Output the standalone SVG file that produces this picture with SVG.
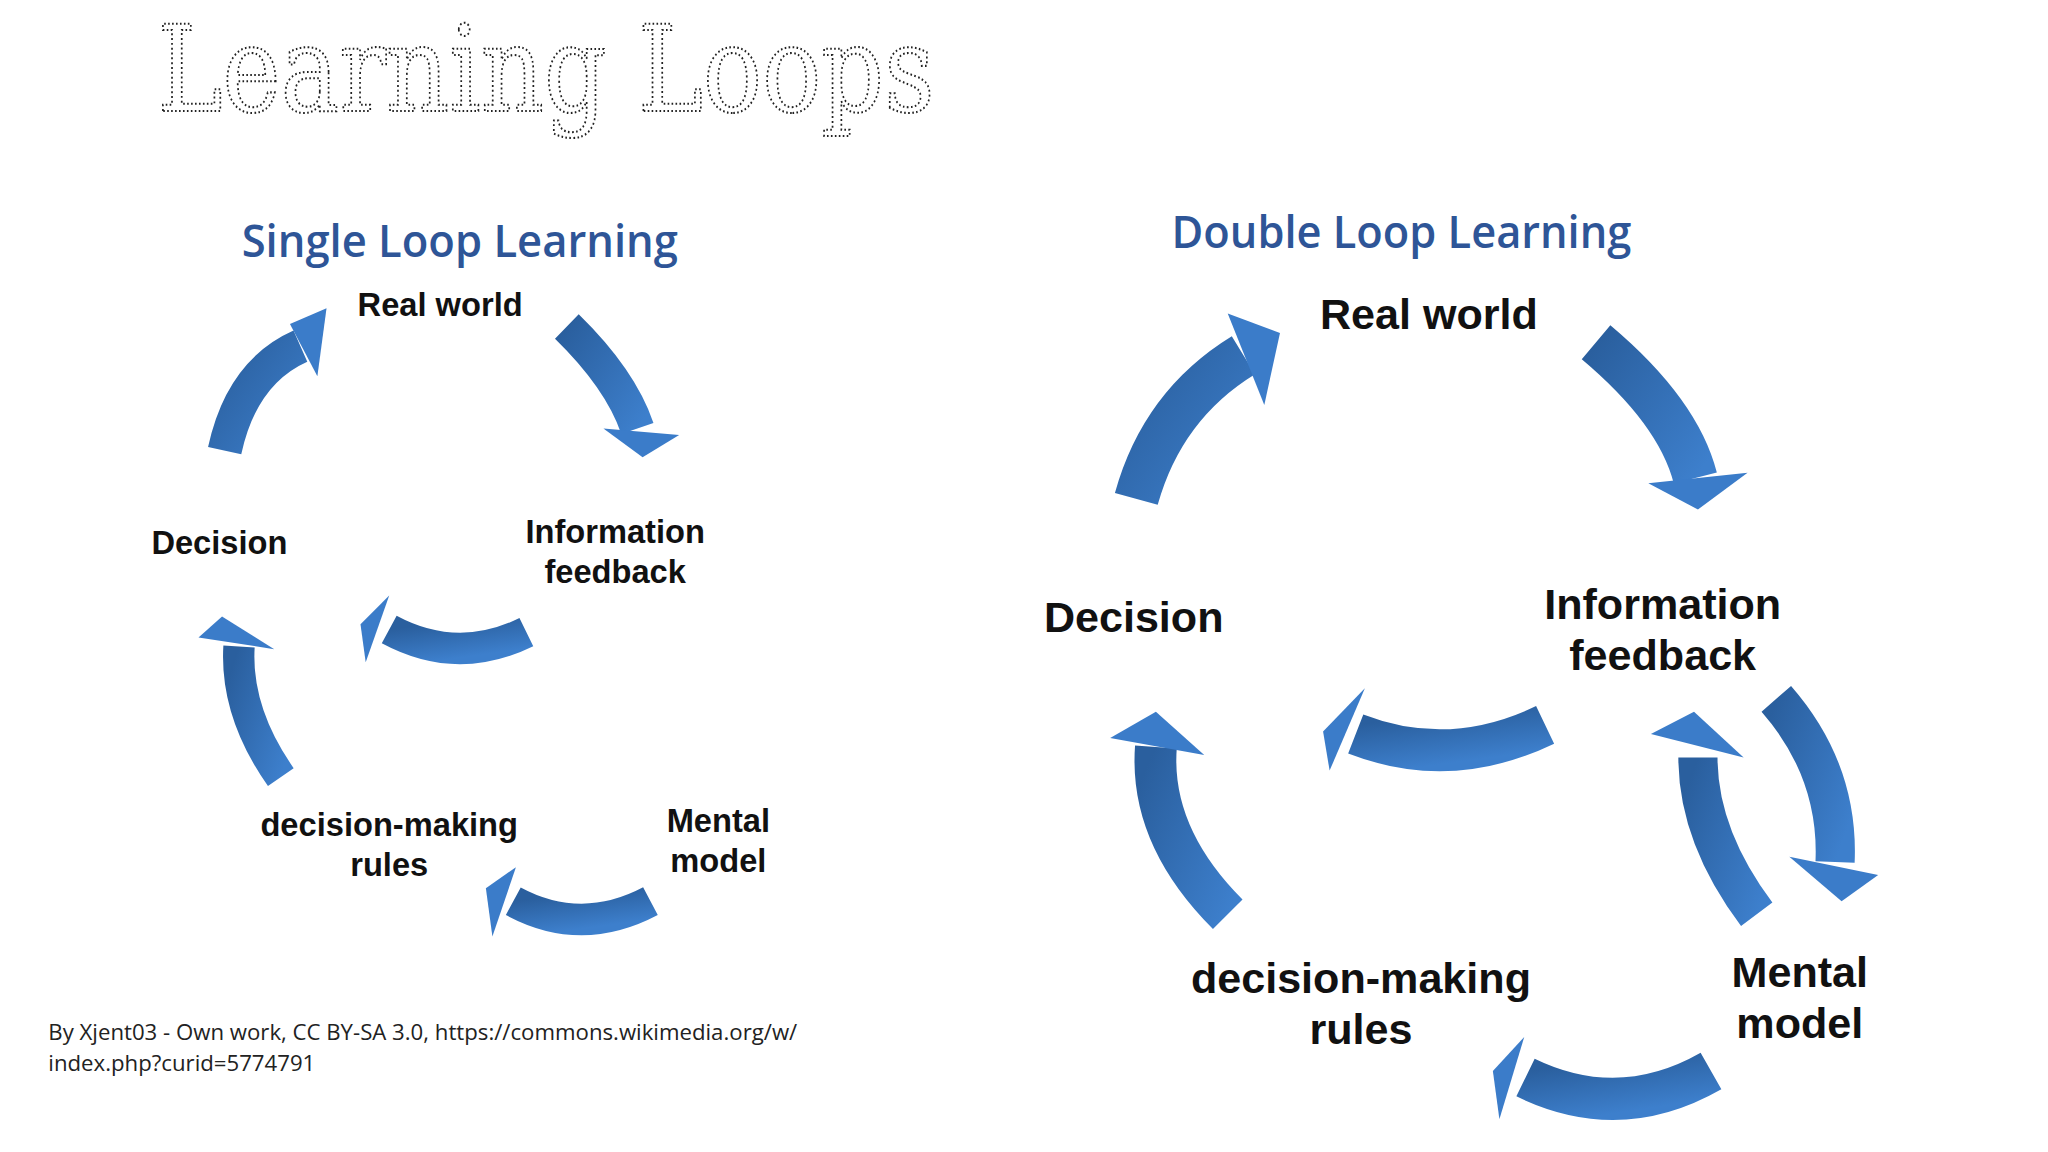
<svg xmlns="http://www.w3.org/2000/svg" width="2048" height="1152" viewBox="0 0 2048 1152">
<style>
.sh{fill:none;stroke:url(#g);stroke-linecap:butt}
.hd{fill:#3b7cc9}
.lb{font-family:"Liberation Sans",Arial,sans-serif;font-weight:bold;fill:#111;text-anchor:middle}
.hdg{font-family:"Open Sans",sans-serif;font-weight:600;fill:#2e5597;text-anchor:middle}
</style>
<defs>
<linearGradient id="g" x1="0" y1="0" x2="1" y2="1"><stop offset="0" stop-color="#2a5f9e"/><stop offset="1" stop-color="#3d7fcc"/></linearGradient>
</defs>
<rect width="2048" height="1152" fill="#fff"/>
<g transform="scale(1.3061)">
<text x="418" y="85" font-family="'DejaVu Serif',serif" font-size="92" fill="none" stroke="#222" stroke-width="1.6" stroke-dasharray="1.5 2.2" text-anchor="middle" textLength="595" lengthAdjust="spacingAndGlyphs">Learning Loops</text>
<text class="hdg" x="352" y="197" font-size="34" textLength="334" lengthAdjust="spacingAndGlyphs">Single Loop Learning</text>
<text class="hdg" x="1073" y="190" font-size="34" textLength="352" lengthAdjust="spacingAndGlyphs">Double Loop Learning</text>
<g id="connectors">
<!-- single -->
<path class="sh" stroke-width="26" d="M172,345 Q185,285 230,265"/>
<polygon class="hd" points="250,236 222,248 243,288"/>
<path class="sh" stroke-width="26" d="M434,250 Q475,290 488,328"/>
<polygon class="hd" points="492,350 462,328 520,333"/>
<path class="sh" stroke-width="24" d="M403,484 Q350,510 298,482"/>
<polygon class="hd" points="276,478 298,456 280,507"/>
<path class="sh" stroke-width="24" d="M215,595 Q180,545 183,495"/>
<polygon class="hd" points="170,472 152,488 210,497"/>
<path class="sh" stroke-width="24" d="M498,690 Q445,718 393,690"/>
<polygon class="hd" points="372,680 395,664 377,717"/>
<!-- double -->
<path class="sh" stroke-width="34" d="M870,382 Q890,310 952,272"/>
<polygon class="hd" points="980,255 940,240 968,310"/>
<path class="sh" stroke-width="34" d="M1222,262 Q1285,315 1298,366"/>
<polygon class="hd" points="1300,390 1262,370 1338,362"/>
<path class="sh" stroke-width="32" d="M1183,555 Q1110,590 1038,562"/>
<polygon class="hd" points="1013,560 1045,527 1018,590"/>
<path class="sh" stroke-width="32" d="M940,700 Q880,640 885,572"/>
<polygon class="hd" points="885,545 850,565 922,578"/>
<path class="sh" stroke-width="30" d="M1345,700 Q1300,640 1300,580"/>
<polygon class="hd" points="1297,545 1264,562 1335,580"/>
<path class="sh" stroke-width="30" d="M1360,535 Q1408,590 1405,660"/>
<polygon class="hd" points="1410,690 1370,656 1438,670"/>
<path class="sh" stroke-width="32" d="M1310,820 Q1240,860 1168,825"/>
<polygon class="hd" points="1143,820 1167,794 1148,857"/>
</g>
<g id="n-real1"><text class="lb" x="337" y="242" font-size="25">Real world</text></g>
<g id="n-info1"><text class="lb" x="471" y="416" font-size="25">Information</text><text class="lb" x="471" y="446" font-size="25">feedback</text></g>
<g id="n-dec1"><text class="lb" x="168" y="424" font-size="25">Decision</text></g>
<g id="n-rules1"><text class="lb" x="298" y="640" font-size="25">decision-making</text><text class="lb" x="298" y="671" font-size="25">rules</text></g>
<g id="n-mental1"><text class="lb" x="550" y="637" font-size="25">Mental</text><text class="lb" x="550" y="668" font-size="25">model</text></g>
<g id="n-real2"><text class="lb" x="1094" y="252" font-size="33">Real world</text></g>
<g id="n-info2"><text class="lb" x="1273" y="474" font-size="33">Information</text><text class="lb" x="1273" y="513" font-size="33">feedback</text></g>
<g id="n-dec2"><text class="lb" x="868" y="484" font-size="33">Decision</text></g>
<g id="n-rules2"><text class="lb" x="1042" y="760" font-size="33">decision-making</text><text class="lb" x="1042" y="799" font-size="33">rules</text></g>
<g id="n-mental2"><text class="lb" x="1378" y="756" font-size="33">Mental</text><text class="lb" x="1378" y="795" font-size="33">model</text></g>
<text x="37" y="796" font-family="'Open Sans',sans-serif" font-size="17" fill="#222">By Xjent03 - Own work, CC BY-SA 3.0, https://commons.wikimedia.org/w/</text>
<text x="37" y="820" font-family="'Open Sans',sans-serif" font-size="17" fill="#222">index.php?curid=5774791</text>
</g>
</svg>
